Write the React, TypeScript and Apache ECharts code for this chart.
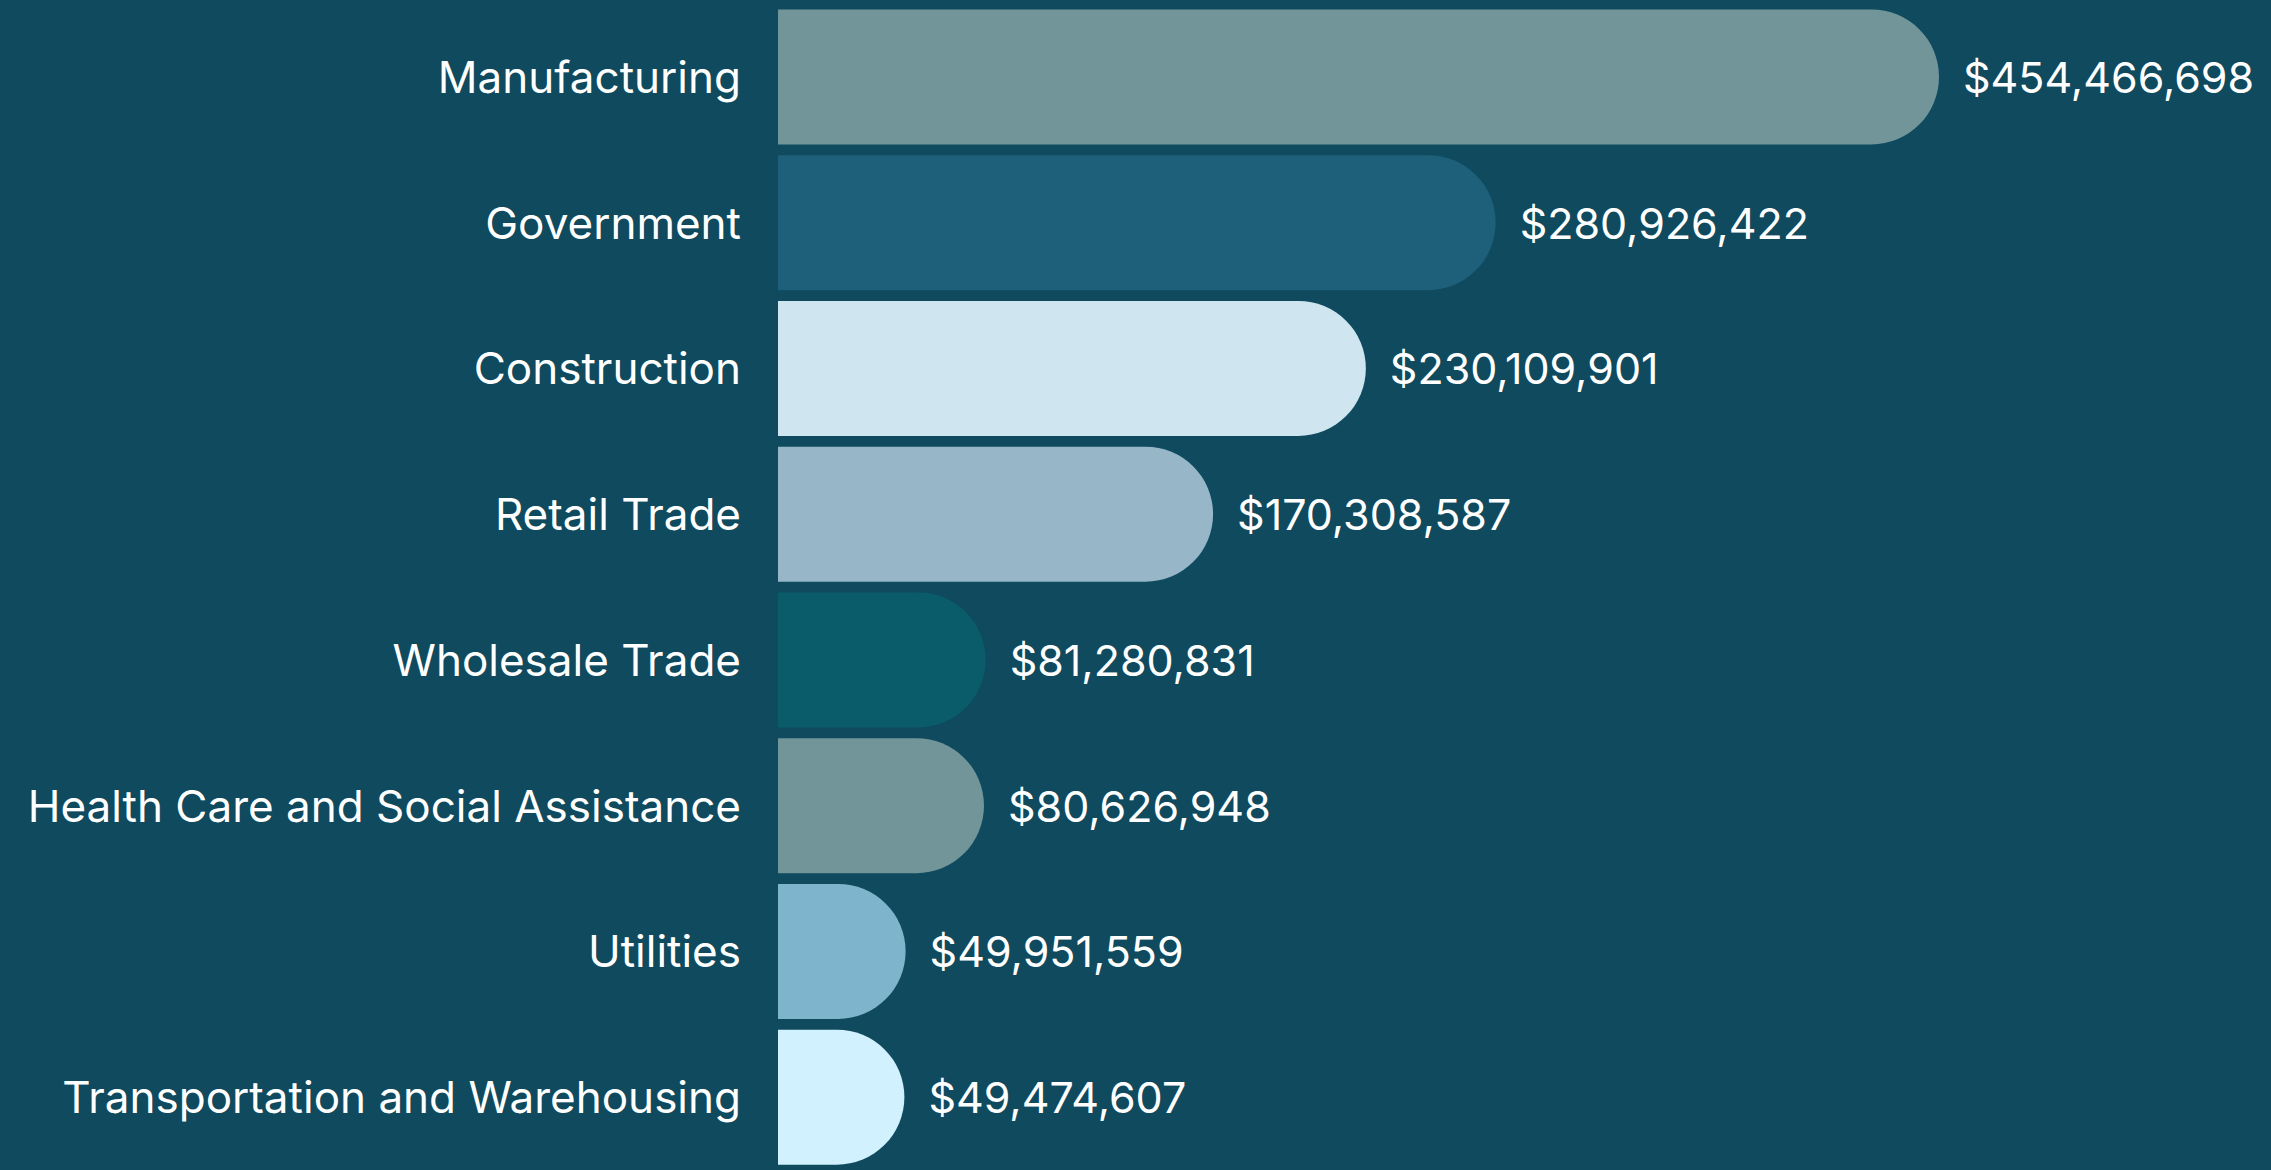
import React, { useEffect, useRef } from "react";
import * as echarts from "echarts";

const categories = [
  "Manufacturing",
  "Government",
  "Construction",
  "Retail Trade",
  "Wholesale Trade",
  "Health Care and Social Assistance",
  "Utilities",
  "Transportation and Warehousing",
];

const values = [454466698, 280926422, 230109901, 170308587, 81280831, 80626948, 49951559, 49474607];

const barColors = ["#72959a", "#1e5f79", "#cfe5f0", "#97b7c8", "#0a5c6a", "#72959a", "#7fb5cc", "#d0f1fd"];

const xMax = 584426000;

export default function App() {
  const ref = useRef<HTMLDivElement>(null);

  useEffect(() => {
    document.body.style.margin = "0";
    if (!ref.current) return;
    const chart = echarts.init(ref.current, null, { renderer: "svg" });
    const font = "Inter, 'DejaVu Sans', sans-serif";
    chart.setOption({
      animation: false,
      backgroundColor: "#0f4a5e",
      grid: { left: 778, top: 4, width: 1493, height: 1172, containLabel: false },
      xAxis: {
        type: "value",
        min: 0,
        max: xMax,
        show: false,
        splitLine: { show: false },
      },
      yAxis: {
        type: "category",
        inverse: true,
        data: categories,
        axisLine: { show: false },
        axisTick: { show: false },
        axisLabel: {
          color: "#ffffff",
          fontSize: 44,
          fontFamily: font,
          margin: 37,
          padding: [0, 0, 6, 0],
        },
      },
      series: [
        {
          type: "bar",
          barWidth: 135,
          data: values.map((v, i) => ({
            value: v,
            itemStyle: { color: barColors[i], borderRadius: [0, 68, 68, 0] },
          })),
          label: {
            show: true,
            position: "right",
            distance: 24,
            color: "#ffffff",
            fontSize: 43,
            fontFamily: font,
            formatter: (p: any) => "$" + Number(p.value).toLocaleString("en-US"),
          },
        },
      ],
    });
    return () => chart.dispose();
  }, []);

  return <div ref={ref} style={{ width: 2271, height: 1170 }} />;
}
